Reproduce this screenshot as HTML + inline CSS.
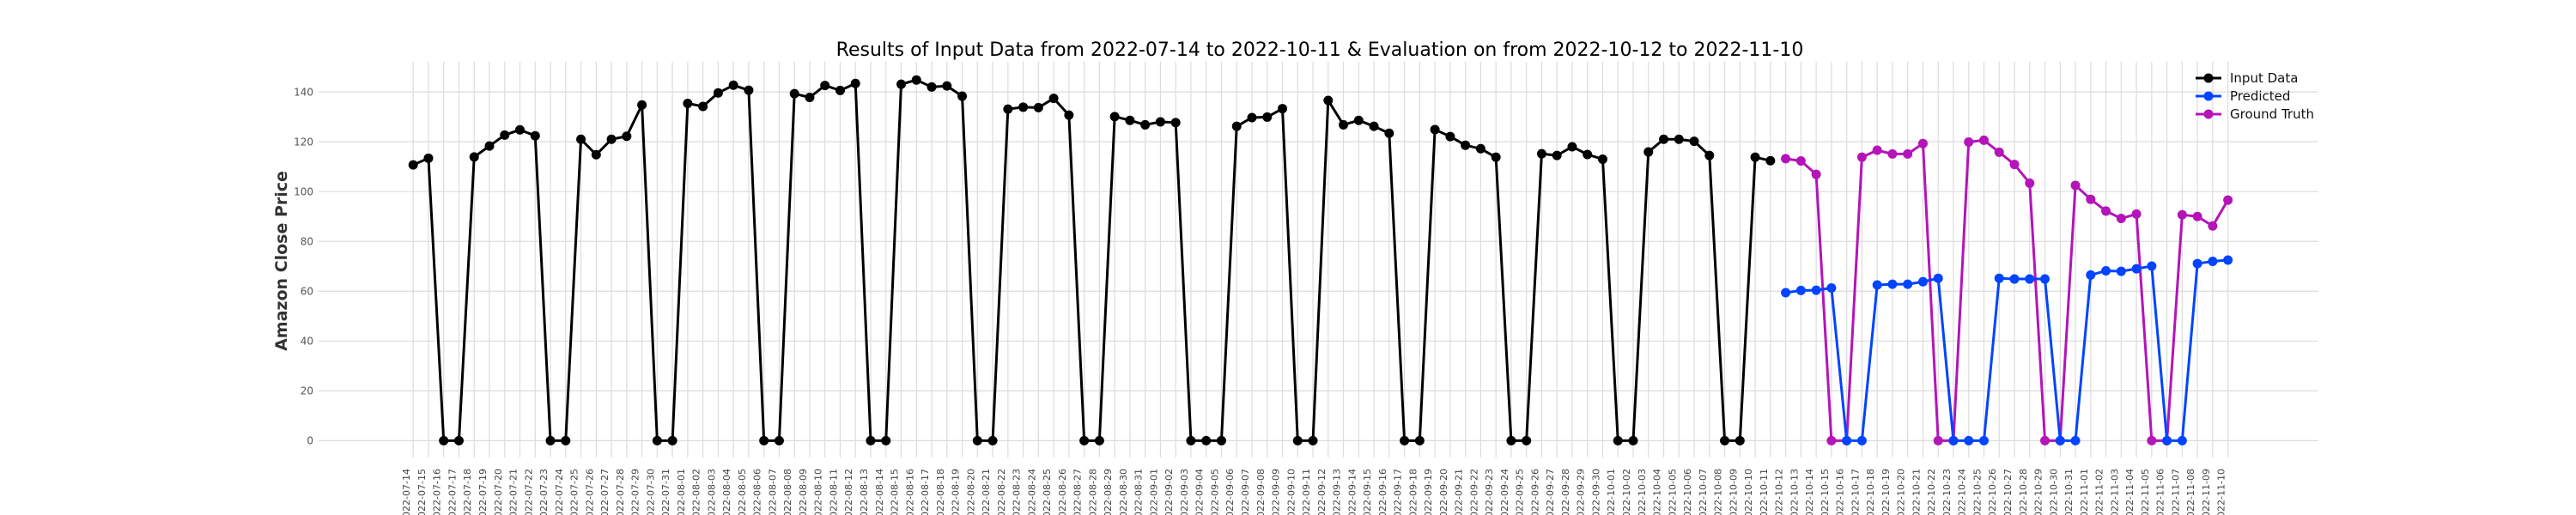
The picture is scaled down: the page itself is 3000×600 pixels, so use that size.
<!DOCTYPE html>
<html><head><meta charset="utf-8">
<style>
html,body{margin:0;padding:0;background:#fff;}
svg{display:block;font-family:"DejaVu Sans","Liberation Sans",sans-serif;}
</style></head>
<body>
<svg id="chart" width="3000" height="600" viewBox="0 0 3000 600" xmlns="http://www.w3.org/2000/svg">
<text x="1537" y="65" font-size="22" text-anchor="middle" fill="#000">Results of Input Data from 2022-07-14 to 2022-10-11 &amp; Evaluation on from 2022-10-12 to 2022-11-10</text>
<text transform="translate(334,304) rotate(-90)" font-size="19" font-weight="bold" text-anchor="middle" fill="#333">Amazon Close Price</text>
<g id="grid"></g>
<g id="yticks"></g>
<g id="xticks"></g>
<g id="series"></g>
<g id="legend"></g>
</svg>
<script>
const inputValues = [110.7,113.4,0,0,113.9,118.3,122.7,124.8,122.4,0,0,121.0,114.8,121.0,122.2,134.8,0,0,
135.4,134.2,139.6,142.7,140.7,0,0,139.3,137.8,142.6,140.6,143.4,0,0,143.1,144.8,142.0,142.4,138.3,0,0,
133.1,133.9,133.7,137.4,130.7,0,0,130.1,128.6,126.8,
128.0,127.7,0,0,0,126.2,129.7,129.9,133.3,0,0,136.6,126.8,128.6,126.2,123.4,0,0,124.9,122.1,118.6,117.2,113.8,0,0,
115.2,114.5,118.0,114.9,113.0,
0,0,115.9,121.0,121.0,120.2,114.5,0,0,113.8,112.4];
const predValues = [59.4,60.3,60.4,61.3,0,0,62.5,62.8,62.8,63.8,65.2,0,0,0,65.2,64.9,64.9,64.9,0,0,
66.5,68.2,68.0,69.0,70.1,0,0,71.1,72.0,72.5];
const truthValues = [113.2,112.3,106.9,0,0,113.8,116.6,115.1,115.1,119.3,0,0,119.9,120.6,115.8,110.9,103.4,0,0,102.5,
96.9,92.2,89.2,91.0,0,0,90.7,90.0,86.2,96.6];
const yTickValues = [0,20,40,60,80,100,120,140];
const startDate = "2022-07-14";
const dayCount = 120;

const NS="http://www.w3.org/2000/svg";
const X0=481.2, STEP=17.76, Y0=513.4, YPER=2.902;
function xScale(i){return X0+i*STEP;}
function yScale(v){return Y0-v*YPER;}
function mk(tag,attrs,parent){const e=document.createElementNS(NS,tag);for(const k in attrs)e.setAttribute(k,attrs[k]);parent.appendChild(e);return e;}
const dates=[];
{const d=new Date(startDate+"T00:00:00Z");for(let i=0;i<dayCount;i++){dates.push(d.toISOString().slice(0,10));d.setUTCDate(d.getUTCDate()+1);}}

const grid=document.getElementById('grid');
yTickValues.forEach(v=>{
  const l=mk('line',{x1:371,x2:2700,y1:yScale(v),y2:yScale(v),stroke:'#dcdcdc','stroke-width':1.2},grid);
  
  
});
dates.forEach((d,i)=>{
  const l=mk('line',{x1:xScale(i),x2:xScale(i),y1:72,y2:533,stroke:'#dcdcdc','stroke-width':1.2},grid);
  
  
});
const yt=document.getElementById('yticks');
yTickValues.forEach(v=>{
  const t=mk('text',{x:365,y:yScale(v)+4.3,'font-size':12,'text-anchor':'end',fill:'#555'},yt);
  t.textContent=v;
  
  
});
const xt=document.getElementById('xticks');
dates.forEach((d,i)=>{
  const x=xScale(i)-4;
  const t=mk('text',{x:0,y:0,'font-size':11,'text-anchor':'end',fill:'#444',transform:`translate(${x},546) rotate(-90)`},xt);
  t.textContent=d;
  
  
});
const ser=document.getElementById('series');
function drawSeries(vals,offset,color,name){
  const g=mk('g',{},ser);
  
  
  const pts=vals.map((v,k)=>xScale(k+offset).toFixed(2)+','+yScale(v).toFixed(2)).join(' ');
  const pl=mk('polyline',{points:pts,fill:'none',stroke:color,'stroke-width':3,'stroke-linejoin':'round'},g);
  
  
  vals.forEach((v,k)=>{
    const c=mk('circle',{cx:xScale(k+offset),cy:yScale(v),r:5.5,fill:color},g);
    
    
  });
}
drawSeries(inputValues,0,'#000000','input-data-series');
drawSeries(truthValues,inputValues.length,'#b414b8','ground-truth-series');
drawSeries(predValues,inputValues.length,'#0044ff','predicted-series');

const lg=document.getElementById('legend');
[['Input Data','#000000'],['Predicted','#0044ff'],['Ground Truth','#b414b8']].forEach((e,k)=>{
  const y=91+k*21;
  const g=mk('g',{},lg);
  
  
  mk('line',{x1:2557,x2:2587,y1:y,y2:y,stroke:e[1],'stroke-width':3},g);
  mk('circle',{cx:2572,cy:y,r:5.5,fill:e[1]},g);
  const t=mk('text',{x:2597,y:y+5,'font-size':15,fill:'#111'},g);
  t.textContent=e[0];
});
</script>
</body></html>
